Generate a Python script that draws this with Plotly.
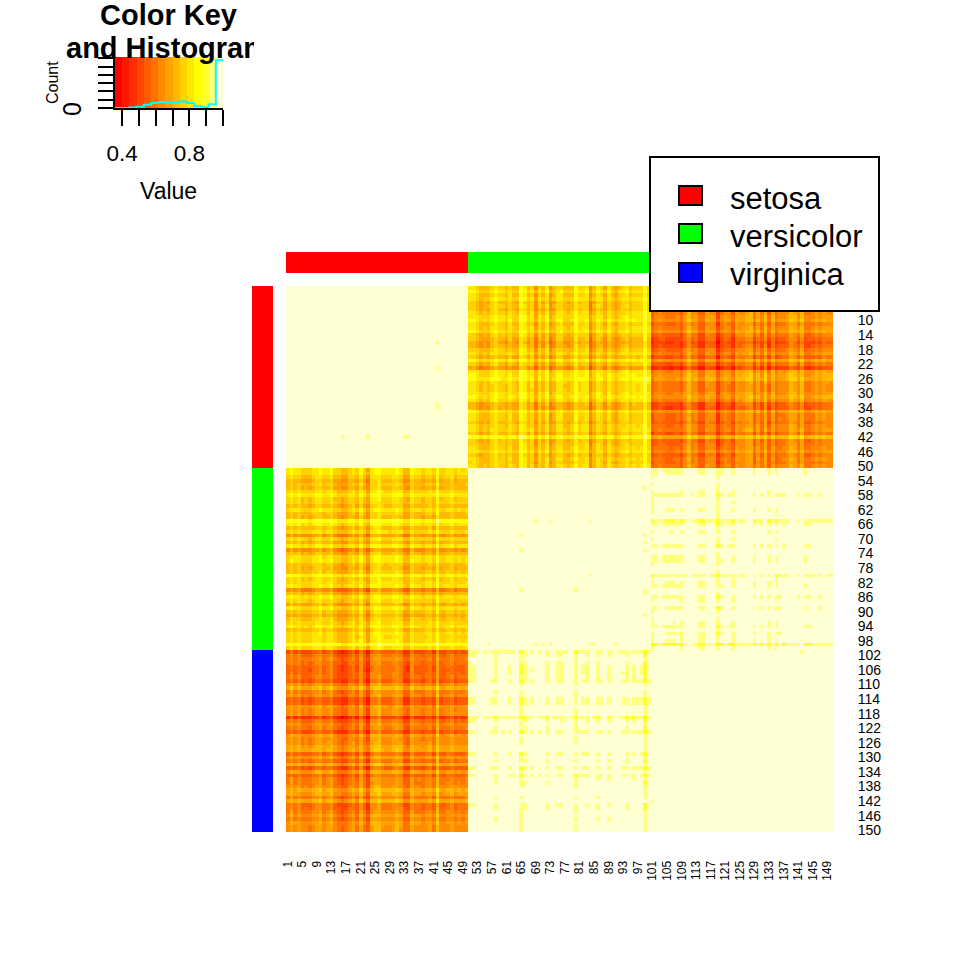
import numpy as np
import plotly.graph_objects as go

# Sepal/petal measurements behind the sample-by-sample correlation map
sepal_length = [5.1,4.9,4.7,4.6,5.0,5.4,4.6,5.0,4.4,4.9,5.4,4.8,4.8,4.3,5.8,5.7,5.4,5.1,5.7,5.1,5.4,5.1,4.6,5.1,4.8,5.0,5.0,5.2,5.2,4.7,4.8,5.4,5.2,5.5,4.9,5.0,5.5,4.9,4.4,5.1,5.0,4.5,4.4,5.0,5.1,4.8,5.1,4.6,5.3,5.0,
                7.0,6.4,6.9,5.5,6.5,5.7,6.3,4.9,6.6,5.2,5.0,5.9,6.0,6.1,5.6,6.7,5.6,5.8,6.2,5.6,5.9,6.1,6.3,6.1,6.4,6.6,6.8,6.7,6.0,5.7,5.5,5.5,5.8,6.0,5.4,6.0,6.7,6.3,5.6,5.5,5.5,6.1,5.8,5.0,5.6,5.7,5.7,6.2,5.1,5.7,
                6.3,5.8,7.1,6.3,6.5,7.6,4.9,7.3,6.7,7.2,6.5,6.4,6.8,5.7,5.8,6.4,6.5,7.7,7.7,6.0,6.9,5.6,7.7,6.3,6.7,7.2,6.2,6.1,6.4,7.2,7.4,7.9,6.4,6.3,6.1,7.7,6.3,6.4,6.0,6.9,6.7,6.9,5.8,6.8,6.7,6.7,6.3,6.5,6.2,5.9]
sepal_width = [3.5,3.0,3.2,3.1,3.6,3.9,3.4,3.4,2.9,3.1,3.7,3.4,3.0,3.0,4.0,4.4,3.9,3.5,3.8,3.8,3.4,3.7,3.6,3.3,3.4,3.0,3.4,3.5,3.4,3.2,3.1,3.4,4.1,4.2,3.1,3.2,3.5,3.6,3.0,3.4,3.5,2.3,3.2,3.5,3.8,3.0,3.8,3.2,3.7,3.3,
               3.2,3.2,3.1,2.3,2.8,2.8,3.3,2.4,2.9,2.7,2.0,3.0,2.2,2.9,2.9,3.1,3.0,2.7,2.2,2.5,3.2,2.8,2.5,2.8,2.9,3.0,2.8,3.0,2.9,2.6,2.4,2.4,2.7,2.7,3.0,3.4,3.1,2.3,3.0,2.5,2.6,3.0,2.6,2.3,2.7,3.0,2.9,2.9,2.5,2.8,
               3.3,2.7,3.0,2.9,3.0,3.0,2.5,2.9,2.5,3.6,3.2,2.7,3.0,2.5,2.8,3.2,3.0,3.8,2.6,2.2,3.2,2.8,2.8,2.7,3.3,3.2,2.8,3.0,2.8,3.0,2.8,3.8,2.8,2.8,2.6,3.0,3.4,3.1,3.0,3.1,3.1,3.1,2.7,3.2,3.3,3.0,2.5,3.0,3.4,3.0]
petal_length = [1.4,1.4,1.3,1.5,1.4,1.7,1.4,1.5,1.4,1.5,1.5,1.6,1.4,1.1,1.2,1.5,1.3,1.4,1.7,1.5,1.7,1.5,1.0,1.7,1.9,1.6,1.6,1.5,1.4,1.6,1.6,1.5,1.5,1.4,1.5,1.2,1.3,1.4,1.3,1.5,1.3,1.3,1.3,1.6,1.9,1.4,1.6,1.4,1.5,1.4,
                4.7,4.5,4.9,4.0,4.6,4.5,4.7,3.3,4.6,3.9,3.5,4.2,4.0,4.7,3.6,4.4,4.5,4.1,4.5,3.9,4.8,4.0,4.9,4.7,4.3,4.4,4.8,5.0,4.5,3.5,3.8,3.7,3.9,5.1,4.5,4.5,4.7,4.4,4.1,4.0,4.4,4.6,4.0,3.3,4.2,4.2,4.2,4.3,3.0,4.1,
                6.0,5.1,5.9,5.6,5.8,6.6,4.5,6.3,5.8,6.1,5.1,5.3,5.5,5.0,5.1,5.3,5.5,6.7,6.9,5.0,5.7,4.9,6.7,4.9,5.7,6.0,4.8,4.9,5.6,5.8,6.1,6.4,5.6,5.1,5.6,6.1,5.6,5.5,4.8,5.4,5.6,5.1,5.1,5.9,5.7,5.2,5.0,5.2,5.4,5.1]
petal_width = [.2,.2,.2,.2,.2,.4,.3,.2,.2,.1,.2,.2,.1,.1,.2,.4,.4,.3,.3,.3,.2,.4,.2,.5,.2,.2,.4,.2,.2,.2,.2,.4,.1,.2,.2,.2,.2,.1,.2,.2,.3,.3,.2,.6,.4,.3,.2,.2,.2,.2,
               1.4,1.5,1.5,1.3,1.5,1.3,1.6,1.0,1.3,1.4,1.0,1.5,1.0,1.4,1.3,1.4,1.5,1.0,1.5,1.1,1.8,1.3,1.5,1.2,1.3,1.4,1.4,1.7,1.5,1.0,1.1,1.0,1.2,1.6,1.5,1.6,1.5,1.3,1.3,1.3,1.2,1.4,1.2,1.0,1.3,1.2,1.3,1.3,1.1,1.3,
               2.5,1.9,2.1,1.8,2.2,2.1,1.7,1.8,1.8,2.5,2.0,1.9,2.1,2.0,2.4,2.3,1.8,2.2,2.3,1.5,2.3,2.0,2.0,1.8,2.1,1.8,1.8,1.8,2.1,1.6,1.9,2.0,2.2,1.5,1.4,2.3,2.4,1.8,1.8,2.1,2.4,2.3,1.9,2.3,2.5,2.3,1.9,2.0,2.3,1.8]

species = ["setosa", "versicolor", "virginica"]
species_colors = ["#FF0000", "#00FF00", "#0000FF"]
species_code = [0] * 50 + [1] * 50 + [2] * 50
sample_ids = list(range(1, 151))
x_tick_ids = list(range(1, 150, 4))
y_tick_ids = list(range(10, 151, 4))
key_ticks = [0.4, 0.5, 0.6, 0.7, 0.8, 0.9, 1.0]
key_labels = ["0.4", "", "", "", "0.8", "", ""]
count_ticks = [0, 2000, 4000, 6000, 8000, 10000, 12000]
n_bins = 15

corr = np.corrcoef(np.array([sepal_length, sepal_width, petal_length, petal_width]).T)
breaks = np.linspace(corr.min(), corr.max(), n_bins + 1)
counts, _ = np.histogram(corr, bins=breaks)


def hsv_hex(h, s):
    i = int(h * 6) % 6
    f = h * 6 - int(h * 6)
    p, q, t = 1 - s, 1 - s * f, 1 - s * (1 - f)
    r, g, b = [(1, t, p), (q, 1, p), (p, 1, t), (p, q, 1), (t, p, 1), (1, p, q)][i]
    return "#%02X%02X%02X" % (round(r * 255), round(g * 255), round(b * 255))


def heat_colors(n):
    j = n // 4
    i = n - j
    out = [hsv_hex(h, 1.0) for h in np.linspace(0, 1 / 6, i)]
    if j:
        out += [hsv_hex(1 / 6, s) for s in np.linspace(1 - 1 / (2 * j), 1 / (2 * j), j)]
    return out


palette = heat_colors(n_bins)
stepped = []
for k, c in enumerate(palette):
    stepped += [[k / n_bins, c], [(k + 1) / n_bins, c]]

side_scale = [[0, species_colors[0]], [1 / 3, species_colors[0]], [1 / 3, species_colors[1]],
              [2 / 3, species_colors[1]], [2 / 3, species_colors[2]], [1, species_colors[2]]]

W = H = 960.0
def dx(a, b):
    return [a / W, b / W]
def dy(top, bottom):
    return [1 - bottom / H, 1 - top / H]

FONT = "Liberation Sans"
fig = go.Figure()

fig.add_trace(go.Heatmap(z=corr, x=sample_ids, y=sample_ids, colorscale=stepped,
                         zmin=breaks[0], zmax=breaks[-1], showscale=False,
                         xaxis="x", yaxis="y"))
mids = (breaks[:-1] + breaks[1:]) / 2
fig.add_trace(go.Heatmap(z=[mids.tolist()], x=mids.tolist(), y=[0], colorscale=stepped,
                         zmin=breaks[0], zmax=breaks[-1], showscale=False,
                         xaxis="x2", yaxis="y2"))
fig.add_trace(go.Scatter(x=breaks.tolist(), y=counts.tolist() + [counts[-1]], mode="lines",
                         line=dict(color="#00FFFF", width=2, shape="hv"),
                         showlegend=False, xaxis="x5", yaxis="y5", cliponaxis=False))
fig.add_trace(go.Heatmap(z=[species_code], x=sample_ids, y=[0], colorscale=side_scale,
                         zmin=0, zmax=2, showscale=False, xaxis="x3", yaxis="y3"))
fig.add_trace(go.Heatmap(z=[[c] for c in species_code], x=[0], y=sample_ids, colorscale=side_scale,
                         zmin=0, zmax=2, showscale=False, xaxis="x4", yaxis="y4"))

fig.update_layout(
    width=960, height=960, margin=dict(l=0, r=0, t=0, b=0, autoexpand=False),
    paper_bgcolor="white", plot_bgcolor="rgba(0,0,0,0)", showlegend=False,
    font=dict(family=FONT, color="black"),
    xaxis=dict(domain=dx(286, 833), range=[0.5, 150.5], anchor="y", showgrid=False, zeroline=False,
               tickmode="array", tickvals=x_tick_ids, ticktext=[str(v) for v in x_tick_ids],
               tickangle=-90, tickfont=dict(size=12, family=FONT), ticks="outside",
               ticklen=23, tickcolor="rgba(0,0,0,0)"),
    yaxis=dict(domain=dy(286, 832), range=[150.5, 0.5], anchor="x", side="right", showgrid=False,
               zeroline=False, tickmode="array", tickvals=y_tick_ids,
               ticktext=[str(v) for v in y_tick_ids], tickfont=dict(size=14, family=FONT),
               ticks="outside", ticklen=21, tickcolor="rgba(0,0,0,0)"),
    xaxis2=dict(domain=dx(115, 223), range=[breaks[0], breaks[-1]], anchor="y2", visible=False),
    yaxis2=dict(domain=dy(57, 108), range=[-0.5, 0.5], anchor="x2", visible=False),
    xaxis5=dict(domain=dx(115, 223), range=[breaks[0], breaks[-1]], anchor="y5", showgrid=False,
                zeroline=False, showline=True, linecolor="black", linewidth=2,
                tickmode="array", tickvals=key_ticks, ticktext=key_labels, ticks="outside",
                ticklen=16, tickwidth=2, tickcolor="black", tickfont=dict(size=22.5, family=FONT),
                ticklabelstandoff=8),
    yaxis5=dict(domain=dy(57, 108), range=[0, counts.max() * 1.07], anchor="x5", showgrid=False,
                zeroline=False, showline=True, linecolor="black", linewidth=2,
                tickmode="array", tickvals=count_ticks, showticklabels=False, ticks="outside",
                ticklen=15, tickwidth=2, tickcolor="black"),
    xaxis3=dict(domain=dx(286, 833), range=[0.5, 150.5], anchor="y3", visible=False),
    yaxis3=dict(domain=dy(252, 273), anchor="x3", visible=False),
    xaxis4=dict(domain=dx(252, 273), anchor="y4", visible=False),
    yaxis4=dict(domain=dy(286, 832), range=[150.5, 0.5], anchor="x4", visible=False),
)

# Axis titles of the key and its single count label
fig.add_annotation(text="Value", xref="paper", yref="paper", x=168.5 / W, y=1 - 191 / H,
                   xanchor="center", yanchor="middle", showarrow=False,
                   font=dict(size=23, family=FONT, color="black"))
fig.add_annotation(text="Count", xref="paper", yref="paper", x=53 / W, y=1 - 83 / H,
                   xanchor="center", yanchor="middle", showarrow=False, textangle=-90,
                   font=dict(size=16, family=FONT, color="black"))
fig.add_annotation(text="0", xref="paper", yref="paper", x=72 / W, y=1 - 109 / H,
                   xanchor="center", yanchor="middle", showarrow=False, textangle=-90,
                   font=dict(size=25, family=FONT, color="black"))

# Legend box
fig.add_shape(type="rect", xref="paper", yref="paper", x0=650 / W, x1=879 / W, y0=1 - 311 / H, y1=1 - 157 / H,
              fillcolor="white", line=dict(color="black", width=2), layer="above")
legend_rows = [(186, 205), (224, 243), (263, 282)]
for name, color, (top, bottom) in zip(species, species_colors, legend_rows):
    fig.add_shape(type="rect", xref="paper", yref="paper", x0=679 / W, x1=702 / W, y0=1 - bottom / H, y1=1 - top / H,
                  fillcolor=color, line=dict(color="black", width=2), layer="above")
    fig.add_annotation(text=name, xref="paper", yref="paper", x=728 / W, y=1 - ((top + bottom) / 2 + 2.5) / H,
                       xanchor="left", yanchor="middle", showarrow=False,
                       font=dict(size=31, family=FONT, color="black"))

# Key title; the second line is cut off by the panel edge
fig.add_annotation(text="<b>Color Key</b>", xref="paper", yref="paper", x=168.5 / W, y=1 - 14.5 / H,
                   xanchor="center", yanchor="middle", showarrow=False,
                   font=dict(size=29, family=FONT, color="black"))
fig.add_annotation(text="<b>and Histogram</b>", xref="paper", yref="paper", x=65 / W, y=1 - 48 / H,
                   xanchor="left", yanchor="middle", showarrow=False, width=188, align="left",
                   borderpad=0, font=dict(size=29, family=FONT, color="black"))

fig.write_html("out.html", post_script="document.body.style.margin='0';",
               config={"displayModeBar": False})
